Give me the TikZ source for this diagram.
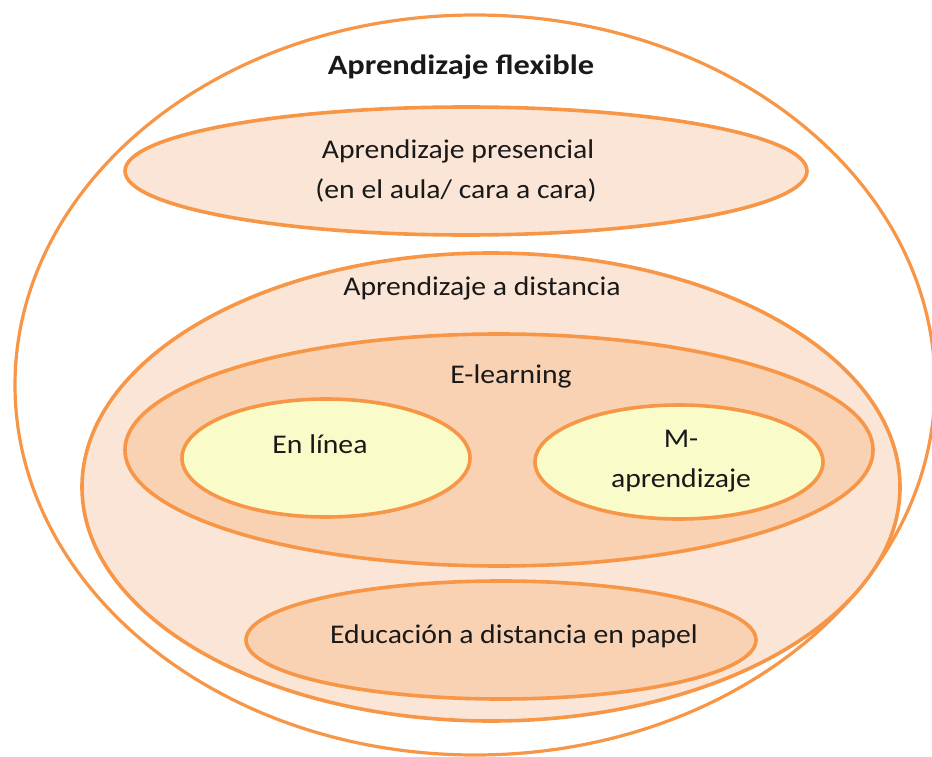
\documentclass[tikz,border=0pt]{standalone}
\usepackage{fontspec}
\setmainfont{Carlito}[FakeStretch=1.1]
\newfontfamily\flexfont{Carlito}[FakeStretch=1.16]
\usetikzlibrary{shapes.geometric}
\definecolor{ostroke}{HTML}{F79646}
\definecolor{lightfill}{HTML}{FBE5D6}
\definecolor{midfill}{HTML}{F9D2B3}
\definecolor{yelfill}{HTML}{F9FBC8}
\tikzset{
  ell/.style={ellipse, draw=ostroke, line width=3.6pt, inner sep=0pt, outer sep=0pt},
  txt/.style={inner sep=0pt, anchor=base, font=\fontsize{27}{30}\selectfont, text=black!90}
}
\begin{document}
\begin{tikzpicture}[x=1pt,y=-1pt]
\useasboundingbox (0,0) rectangle (932,757);
\node[ell, line width=3.2pt, minimum width=920pt, minimum height=740pt] (outer) at (475,385) {};
\node[ell, fill=lightfill, minimum width=682pt, minimum height=128pt] (pres) at (466,171) {};
\node[ell, fill=lightfill, minimum width=818pt, minimum height=468pt] (dist) at (491,487) {};
\node[ell, fill=midfill, minimum width=748pt, minimum height=232pt] (elearn) at (499,450) {};
\node[ell, fill=yelfill, minimum width=288pt, minimum height=118pt] (linea) at (326,458) {};
\node[ell, fill=yelfill, minimum width=288pt, minimum height=114pt] (maprend) at (679,462) {};
\node[ell, fill=midfill, minimum width=510pt, minimum height=118pt] (papel) at (501,640) {};
\node[txt, font=\fontsize{28}{30}\flexfont\bfseries] (tflex) at (461,75) {Aprendizaje flexible};
\node[txt] (tpres1) at (458,159) {Aprendizaje presencial};
\node[txt] (tpres2) at (456,198) {(en el aula/ cara a cara)};
\node[txt] (tdist) at (482,295) {Aprendizaje a distancia};
\node[txt] (telearn) at (511,383) {E-learning};
\node[txt] (tlinea) at (320,453) {En línea};
\node[txt] (tm1) at (681,447) {M-};
\node[txt] (tm2) at (681,487) {aprendizaje};
\node[txt] (tpapel) at (514,643) {Educación a distancia en papel};
\end{tikzpicture}
\end{document}
